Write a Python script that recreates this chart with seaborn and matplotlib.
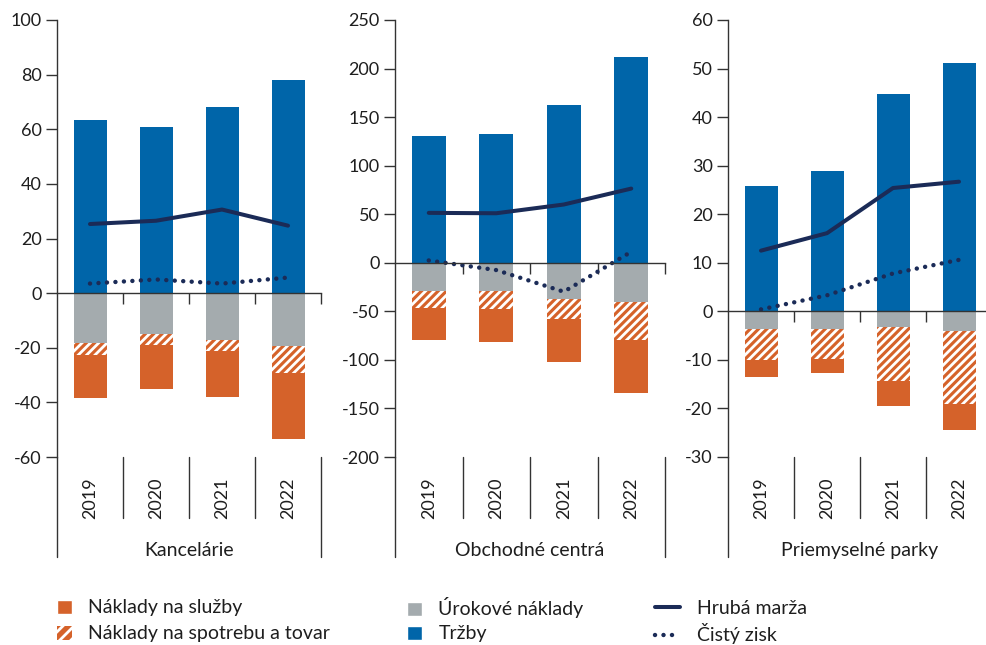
import matplotlib
matplotlib.use('Agg')
import matplotlib.pyplot as plt
from matplotlib.patches import Patch
from matplotlib.lines import Line2D
from matplotlib.transforms import blended_transform_factory
import seaborn as sns
import pandas as pd

# data (mil. EUR)
roky = ['2019', '2020', '2021', '2022']
segmenty = ['Kancelárie', 'Obchodné centrá', 'Priemyselné parky']

trzby = [[63.5, 61.0, 68.0, 78.0], [130.5, 132.5, 162.0, 211.5], [25.9, 28.8, 44.7, 51.1]]
urokove = [[18.4, 15.1, 17.2, 19.3], [29.5, 29.5, 37.7, 40.5], [3.6, 3.6, 3.2, 4.1]]
spotreba = [[4.3, 4.0, 4.0, 10.0], [16.8, 17.8, 19.9, 38.6], [6.5, 6.2, 11.2, 14.9]]
sluzby = [[15.6, 16.0, 16.8, 24.2], [32.8, 34.3, 44.6, 55.5], [3.5, 2.9, 5.0, 5.4]]
hruba_marza = [[25.3, 26.5, 30.6, 24.7], [51.4, 51.0, 60.0, 76.4], [12.5, 16.1, 25.4, 26.7]]
cisty_zisk = [[3.5, 5.0, 3.5, 5.7], [2.4, -7.5, -29.8, 11.3], [0.4, 3.3, 7.8, 10.6]]

osi_y = [(-60, 100, 20), (-200, 250, 50), (-30, 60, 10)]

MODRA = '#0065a9'
ORANZOVA = '#d5622a'
SIVA = '#a4abae'
TMAVA = '#1b2b57'
TEXT = '#1e1e1e'
CIARA = '#333333'
SRAFA = '////'

sns.set_style('ticks')
plt.rcParams['font.family'] = ['Lato', 'DejaVu Sans']
plt.rcParams['axes.unicode_minus'] = False
plt.rcParams['hatch.linewidth'] = 2.0
plt.rcParams['text.color'] = TEXT
plt.rcParams['ytick.color'] = CIARA
plt.rcParams['ytick.labelcolor'] = TEXT

fig = plt.figure(figsize=(9.86, 6.45), dpi=100)
W, H = 986, 645
pozicie = [(57, 264), (395, 270), (728, 264)]
top_px, bottom_px = 20, 457

for k, seg in enumerate(segmenty):
    left, width = pozicie[k]
    ax = fig.add_axes([left / W, 1 - bottom_px / H, width / W, (bottom_px - top_px) / H])
    u = pd.Series(urokove[k])
    s = pd.Series(spotreba[k])
    c = pd.Series(sluzby[k])
    df = pd.DataFrame({'rok': roky, 'trzby': trzby[k],
                       'neg_all': -(u + s + c), 'neg_us': -(u + s), 'neg_u': -u})
    bar_kw = dict(data=df, x='rok', width=0.5, saturation=1, errorbar=None, ax=ax)
    sns.barplot(y='trzby', color=MODRA, linewidth=0, **bar_kw)
    sns.barplot(y='neg_all', color=ORANZOVA, linewidth=0, **bar_kw)
    sns.barplot(y='neg_us', color=ORANZOVA, hatch=SRAFA, edgecolor='white', linewidth=0, **bar_kw)
    sns.barplot(y='neg_u', color=SIVA, linewidth=0, **bar_kw)

    x = list(range(len(roky)))
    sns.lineplot(x=x, y=hruba_marza[k], color=TMAVA, linewidth=2.9, ax=ax)
    sns.lineplot(x=x, y=cisty_zisk[k], color=TMAVA, linewidth=3.2,
                 linestyle=(0, (0.01, 1.9)), dash_capstyle='round', ax=ax)

    lo, hi, st = osi_y[k]
    ax.set_ylim(lo, hi)
    ax.set_yticks(range(lo, hi + 1, st))
    ax.set_xlim(-0.5, 3.5)
    ax.set_xticks([0.5, 1.5, 2.5, 3.5])
    ax.set_xticklabels([])
    ax.set_xlabel('')
    ax.set_ylabel('')
    ax.spines['bottom'].set_position(('data', 0))
    ax.spines['top'].set_visible(False)
    ax.spines['right'].set_visible(False)
    for sp in ['left', 'bottom']:
        ax.spines[sp].set_color(CIARA)
        ax.spines[sp].set_linewidth(1)
    ax.tick_params(axis='x', length=8, width=1, direction='out', color=CIARA)
    ax.tick_params(axis='y', length=8, width=1, labelsize=13, pad=3)

    tr = blended_transform_factory(ax.transData, ax.transAxes)
    for i, r in enumerate(roky):
        ax.text(i, -0.094, r, rotation=90, ha='center', va='center',
                transform=tr, fontsize=13)
    for b in [0.5, 1.5, 2.5]:
        ax.plot([b, b], [0, -0.14], transform=tr, clip_on=False, color=CIARA, lw=1)
    for b in [-0.5, 3.5]:
        ax.plot([b, b], [0, -0.229], transform=tr, clip_on=False, color=CIARA, lw=1)
    ax.text(1.5, -0.215, seg, ha='center', va='center', transform=tr, fontsize=14)

# legend: one entry per legend so the rows line up exactly
polozky = [
    (Patch(facecolor=ORANZOVA, label='Náklady na služby'), 57, 608, 0.77),
    (Patch(facecolor=ORANZOVA, hatch='///', edgecolor='white', linewidth=0,
           label='Náklady na spotrebu a tovar'), 57, 634, 0.77),
    (Patch(facecolor=SIVA, label='Úrokové náklady'), 407, 608, 0.77),
    (Patch(facecolor=MODRA, label='Tržby'), 407, 634, 0.77),
    (Line2D([], [], color=TMAVA, lw=2.9, label='Hrubá marža'), 655, 608, 1.29),
    (Line2D([], [], color=TMAVA, lw=3.2, linestyle=(0, (0.01, 1.9)),
            dash_capstyle='round', label='Čistý zisk'), 655, 634, 1.29),
]
for h, px, py, hl in polozky:
    fig.legend(handles=[h], loc='center left', bbox_to_anchor=(px / W, 1 - py / H),
               frameon=False, borderpad=0, borderaxespad=0, fontsize=14,
               handlelength=hl, handleheight=0.72, handletextpad=0.85)

fig.savefig('out.png', dpi=100)
